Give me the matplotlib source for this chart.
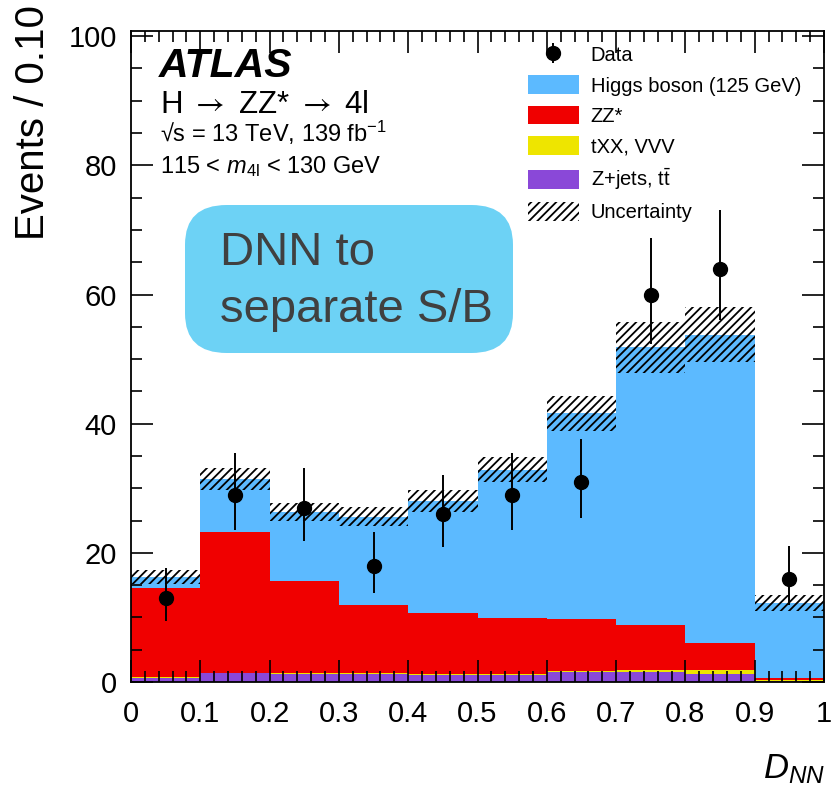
import numpy as np
import matplotlib
matplotlib.use("Agg")
import matplotlib.pyplot as plt
from matplotlib.patches import Patch, FancyBboxPatch
from matplotlib.ticker import MultipleLocator, FuncFormatter

plt.rcParams['font.family'] = ['Liberation Sans', 'DejaVu Sans']
plt.rcParams['mathtext.fontset'] = 'custom'
plt.rcParams['mathtext.rm'] = 'Liberation Sans'
plt.rcParams['mathtext.it'] = 'Liberation Sans:italic'
plt.rcParams['mathtext.bf'] = 'Liberation Sans:bold'
plt.rcParams['hatch.linewidth'] = 1.3

# bins of D_NN
bin_edges = np.round(np.arange(0, 1.01, 0.1), 2)

# stacked contributions (bottom -> top)
zjets_tt = [0.6, 1.4, 1.3, 1.2, 1.1, 1.1, 1.5, 1.6, 1.3, 0.15]
txx_vvv = [0.1, 0.05, 0.1, 0.15, 0.15, 0.2, 0.25, 0.3, 0.5, 0.15]
zz_star = [13.8, 21.85, 14.2, 10.65, 9.45, 8.6, 7.95, 6.9, 4.2, 0.3]
higgs = [1.7, 8.2, 10.7, 13.6, 17.3, 23.0, 31.9, 43.0, 47.8, 11.6]
uncert = [1.1, 1.7, 1.4, 1.5, 1.7, 2.0, 2.7, 3.9, 4.3, 1.2]

# data
data = [13, 29, 27, 18, 26, 29, 31, 60, 64, 16]
data_err_lo = [3.6, 5.4, 5.2, 4.2, 5.1, 5.4, 5.6, 7.7, 8.0, 4.0]
data_err_hi = [4.7, 6.4, 6.2, 5.3, 6.1, 6.4, 6.6, 8.8, 9.1, 5.1]

col_higgs = '#5cbaff'
col_zz = '#f00000'
col_txx = '#eee500'
col_zjets = '#8a48d8'

fig = plt.figure(figsize=(8.32, 7.93), dpi=100)
ax = fig.add_axes([131/832, 1-682/793, 693/832, 651/793])

left = bin_edges[:-1]
w = 0.1
bottom = np.zeros(len(left))
for vals, col in [(zjets_tt, col_zjets), (txx_vvv, col_txx), (zz_star, col_zz), (higgs, col_higgs)]:
    ax.bar(left, vals, width=w, bottom=bottom, align='edge', color=col, linewidth=0)
    bottom = bottom + np.array(vals)
total = bottom

unc = np.array(uncert)
ax.bar(left, 2*unc, width=w, bottom=total-unc, align='edge', fill=False,
       hatch='////', linewidth=0, edgecolor='black')

centers = left + w/2
eb = ax.errorbar(centers, data, yerr=[data_err_lo, data_err_hi], fmt='o', color='black',
                 markersize=10, elinewidth=1.4, capsize=0)

ax.set_xlim(0, 1)
ax.set_ylim(0, 100.8)
ax.xaxis.set_major_locator(MultipleLocator(0.1))
ax.xaxis.set_minor_locator(MultipleLocator(0.02))
ax.yaxis.set_major_locator(MultipleLocator(20))
ax.yaxis.set_minor_locator(MultipleLocator(5))
ax.xaxis.set_major_formatter(FuncFormatter(lambda v, p: '%g' % round(v, 2)))
ax.tick_params(which='both', direction='in', top=True, right=True, width=1.2, labelsize=21)
ax.tick_params(which='major', length=16)
ax.tick_params(which='minor', length=8)
ax.tick_params(axis='y', pad=10)
ax.tick_params(axis='x', pad=13)
for s in ax.spines.values():
    s.set_linewidth(1.3)

fig.text(14/832, 1-5/793, 'Events / 0.10', rotation=90, ha='left', va='top', fontsize=29)
fig.text(825/832, 1-778/793, r'$D_{NN}$', ha='right', va='baseline', fontsize=25)

# ATLAS label
fig.text(159/832, 1-77/793, 'ATLAS', fontsize=29.5, fontweight='bold', style='italic', va='baseline')
fig.text(160/832, 1-113/793, r'H $\rightarrow$ ZZ* $\rightarrow$ 4l', fontsize=22.5, va='baseline',
         math_fontfamily='stixsans')
fig.text(160/832, 1-142/793, '\u221as = 13 TeV, 139 fb$^{\\mathrm{-1}}$', fontsize=17, va='baseline')
fig.text(160/832, 1-173/793, r'115 < $m_{\mathrm{4l}}$ < 130 GeV', fontsize=17, va='baseline')

# legend
handles = [eb,
           Patch(facecolor=col_higgs, edgecolor='none'),
           Patch(facecolor=col_zz, edgecolor='none'),
           Patch(facecolor=col_txx, edgecolor='none'),
           Patch(facecolor=col_zjets, edgecolor='none'),
           Patch(facecolor='white', edgecolor='black', hatch='////', linewidth=0)]
labels = ['Data', 'Higgs boson (125 GeV)', 'ZZ*', 'tXX, VVV', 'Z+jets, t$\\bar{\\mathrm{t}}$', 'Uncertainty']
ax.legend(handles, labels, loc='upper left', bbox_to_anchor=(0.553, 1.0), frameon=False,
          fontsize=14.5, handlelength=2.5, handleheight=1.05, labelspacing=0.5,
          handletextpad=0.6, borderaxespad=0.3)

# DNN annotation box
box = FancyBboxPatch((185/832, 1-353/793), 328/832, 148/793,
                     boxstyle='round,pad=0,rounding_size=0.05', transform=fig.transFigure,
                     facecolor='#6dd2f5', edgecolor='none', zorder=5)
fig.patches.append(box)
fig.text(220/832, 1-265/793, 'DNN to', fontsize=34, color='#404040', va='baseline', zorder=6)
fig.text(220/832, 1-322/793, 'separate S/B', fontsize=34, color='#404040', va='baseline', zorder=6)

fig.savefig('out.png', dpi=100)
